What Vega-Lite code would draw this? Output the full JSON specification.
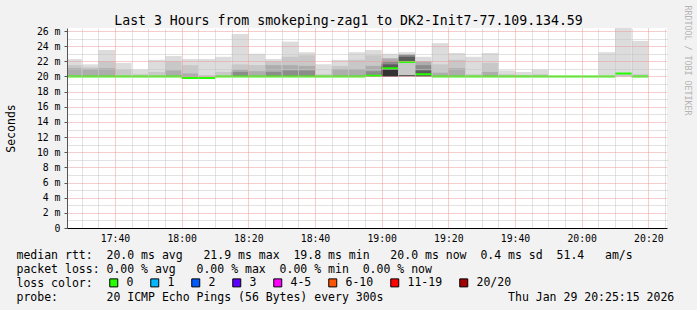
{
  "$schema": "https://vega.github.io/schema/vega-lite/v6.json",
  "width": 600,
  "height": 200,
  "autosize": {"type": "none"},
  "padding": {"left": 67, "top": 28, "right": 30, "bottom": 82},
  "background": "#f2f2f2",
  "view": {"fill": "white", "stroke": null},
  "datasets": {
    "smoke": [
      {"t":25.6,"t2":30,"lo":20.0,"hi":22.3,"s":"s1"},{"t":25.6,"t2":30,"lo":20.0,"hi":21.5,"s":"s2"},{"t":25.6,"t2":30,"lo":20.0,"hi":21.1,"s":"s3"},
      {"t":30,"t2":35,"lo":20.0,"hi":21.6,"s":"s1"},{"t":30,"t2":35,"lo":20.0,"hi":21.2,"s":"s2"},{"t":30,"t2":35,"lo":20.0,"hi":21.0,"s":"s3"},
      {"t":35,"t2":40,"lo":20.0,"hi":23.5,"s":"s1"},{"t":35,"t2":40,"lo":20.0,"hi":22.0,"s":"s2"},{"t":35,"t2":40,"lo":20.0,"hi":21.1,"s":"s3"},
      {"t":40,"t2":45,"lo":20.0,"hi":21.8,"s":"s1"},{"t":40,"t2":45,"lo":20.0,"hi":20.9,"s":"s2"},
      {"t":45,"t2":50,"lo":20.0,"hi":20.9,"s":"s1"},{"t":45,"t2":50,"lo":20.0,"hi":20.3,"s":"s2"},
      {"t":50,"t2":55,"lo":20.0,"hi":22.2,"s":"s1"},{"t":50,"t2":55,"lo":20.0,"hi":20.6,"s":"s2"},
      {"t":55,"t2":60,"lo":20.0,"hi":22.7,"s":"s1"},{"t":55,"t2":60,"lo":20.0,"hi":22.0,"s":"s2"},{"t":55,"t2":60,"lo":20.0,"hi":20.8,"s":"s3"},
      {"t":60,"t2":65,"lo":19.8,"hi":22.3,"s":"s1"},{"t":60,"t2":65,"lo":19.8,"hi":21.5,"s":"s2"},{"t":60,"t2":65,"lo":19.8,"hi":20.4,"s":"s3"},
      {"t":65,"t2":70,"lo":19.8,"hi":22.3,"s":"s1"},{"t":65,"t2":70,"lo":19.8,"hi":20.2,"s":"s2"},
      {"t":70,"t2":75,"lo":20.0,"hi":22.6,"s":"s1"},{"t":70,"t2":75,"lo":20.0,"hi":20.6,"s":"s2"},
      {"t":75,"t2":80,"lo":20.0,"hi":25.6,"s":"s1"},{"t":75,"t2":80,"lo":20.0,"hi":21.6,"s":"s2"},{"t":75,"t2":80,"lo":20.0,"hi":20.9,"s":"s3"},{"t":75,"t2":80,"lo":20.0,"hi":20.6,"s":"s4"},
      {"t":80,"t2":85,"lo":20.0,"hi":23.0,"s":"s1"},{"t":80,"t2":85,"lo":20.0,"hi":21.5,"s":"s2"},{"t":80,"t2":85,"lo":20.0,"hi":20.7,"s":"s3"},
      {"t":85,"t2":90,"lo":20.0,"hi":22.3,"s":"s1"},{"t":85,"t2":90,"lo":20.0,"hi":22.0,"s":"s2"},{"t":85,"t2":90,"lo":20.0,"hi":21.5,"s":"s3"},{"t":85,"t2":90,"lo":20.0,"hi":20.6,"s":"s4"},
      {"t":90,"t2":95,"lo":20.0,"hi":24.6,"s":"s1"},{"t":90,"t2":95,"lo":20.0,"hi":22.6,"s":"s2"},{"t":90,"t2":95,"lo":20.0,"hi":21.5,"s":"s3"},{"t":90,"t2":95,"lo":20.0,"hi":20.8,"s":"s4"},
      {"t":95,"t2":100,"lo":20.0,"hi":23.2,"s":"s1"},{"t":95,"t2":100,"lo":20.0,"hi":22.8,"s":"s2"},{"t":95,"t2":100,"lo":20.0,"hi":21.4,"s":"s3"},{"t":95,"t2":100,"lo":20.0,"hi":20.8,"s":"s4"},
      {"t":100,"t2":105,"lo":20.0,"hi":21.6,"s":"s1"},{"t":100,"t2":105,"lo":20.0,"hi":20.3,"s":"s2"},
      {"t":105,"t2":110,"lo":20.0,"hi":22.2,"s":"s1"},{"t":105,"t2":110,"lo":20.0,"hi":21.4,"s":"s2"},{"t":105,"t2":110,"lo":20.0,"hi":21.0,"s":"s3"},
      {"t":110,"t2":115,"lo":20.0,"hi":23.2,"s":"s1"},{"t":110,"t2":115,"lo":20.0,"hi":22.2,"s":"s2"},{"t":110,"t2":115,"lo":20.0,"hi":21.0,"s":"s3"},
      {"t":115,"t2":120,"lo":20.0,"hi":23.5,"s":"s1"},{"t":115,"t2":120,"lo":20.0,"hi":22.8,"s":"s2"},{"t":115,"t2":120,"lo":20.0,"hi":21.4,"s":"s3"},{"t":115,"t2":120,"lo":20.0,"hi":20.7,"s":"s4"},
      {"t":120,"t2":125,"lo":20.0,"hi":23.0,"s":"s1"},{"t":120,"t2":125,"lo":20.0,"hi":22.4,"s":"s3"},{"t":120,"t2":125,"lo":20.0,"hi":22.0,"s":"s4"},{"t":120,"t2":125,"lo":20.0,"hi":21.6,"s":"s5"},{"t":120,"t2":125,"lo":20.0,"hi":21.2,"s":"s6"},
      {"t":125,"t2":130,"lo":20.0,"hi":23.2,"s":"s1"},{"t":125,"t2":130,"lo":20.2,"hi":21.8,"s":"s2"},{"t":125,"t2":130,"lo":21.8,"hi":22.9,"s":"s4"},{"t":125,"t2":130,"lo":21.9,"hi":22.6,"s":"s5"},{"t":125,"t2":130,"lo":20.0,"hi":20.2,"s":"s5"},
      {"t":130,"t2":135,"lo":20.0,"hi":22.6,"s":"s1"},{"t":130,"t2":135,"lo":20.0,"hi":22.0,"s":"s3"},{"t":130,"t2":135,"lo":20.0,"hi":21.5,"s":"s4"},{"t":130,"t2":135,"lo":20.0,"hi":20.8,"s":"s5"},
      {"t":135,"t2":140,"lo":20.0,"hi":24.4,"s":"s1"},{"t":135,"t2":140,"lo":20.0,"hi":21.6,"s":"s2"},{"t":135,"t2":140,"lo":20.0,"hi":20.5,"s":"s3"},
      {"t":140,"t2":145,"lo":20.0,"hi":23.1,"s":"s1"},{"t":140,"t2":145,"lo":20.0,"hi":22.2,"s":"s2"},{"t":140,"t2":145,"lo":20.0,"hi":21.1,"s":"s3"},
      {"t":145,"t2":150,"lo":20.0,"hi":22.6,"s":"s1"},{"t":145,"t2":150,"lo":20.0,"hi":20.3,"s":"s2"},
      {"t":150,"t2":155,"lo":20.0,"hi":23.1,"s":"s1"},{"t":150,"t2":155,"lo":20.0,"hi":21.8,"s":"s2"},{"t":150,"t2":155,"lo":20.0,"hi":20.6,"s":"s3"},
      {"t":155,"t2":160,"lo":20.0,"hi":20.8,"s":"s1"},{"t":155,"t2":160,"lo":20.0,"hi":20.3,"s":"s2"},
      {"t":160,"t2":165,"lo":20.0,"hi":20.6,"s":"s1"},{"t":160,"t2":165,"lo":20.0,"hi":20.2,"s":"s2"},
      {"t":165,"t2":170,"lo":20.0,"hi":20.9,"s":"s1"},{"t":165,"t2":170,"lo":20.0,"hi":20.3,"s":"s2"},
      {"t":170,"t2":175,"lo":20.0,"hi":20.1,"s":"s1"},
      {"t":175,"t2":180,"lo":20.0,"hi":20.1,"s":"s1"},
      {"t":180,"t2":185,"lo":20.0,"hi":20.1,"s":"s1"},
      {"t":185,"t2":190,"lo":20.0,"hi":23.2,"s":"s1"},
      {"t":190,"t2":195,"lo":20.0,"hi":26.4,"s":"s1"},{"t":190,"t2":195,"lo":20.0,"hi":20.4,"s":"s2"},
      {"t":195,"t2":200,"lo":20.0,"hi":24.7,"s":"s1"},{"t":195,"t2":200,"lo":20.0,"hi":20.3,"s":"s2"}
    ],
    "median": [
      {"t":25.6,"t2":30,"med":20.0,"loss":"0"},{"t":30,"t2":35,"med":20.0,"loss":"0"},{"t":35,"t2":40,"med":20.0,"loss":"0"},
      {"t":40,"t2":45,"med":20.0,"loss":"0"},{"t":45,"t2":50,"med":20.0,"loss":"0"},{"t":50,"t2":55,"med":20.0,"loss":"0"},
      {"t":55,"t2":60,"med":20.0,"loss":"0"},{"t":60,"t2":65,"med":19.8,"loss":"0"},{"t":65,"t2":70,"med":19.8,"loss":"0"},
      {"t":70,"t2":75,"med":20.0,"loss":"0"},{"t":75,"t2":80,"med":20.0,"loss":"0"},{"t":80,"t2":85,"med":20.0,"loss":"0"},
      {"t":85,"t2":90,"med":20.0,"loss":"0"},{"t":90,"t2":95,"med":20.0,"loss":"0"},{"t":95,"t2":100,"med":20.0,"loss":"0"},
      {"t":100,"t2":105,"med":20.0,"loss":"0"},{"t":105,"t2":110,"med":20.0,"loss":"0"},{"t":110,"t2":115,"med":20.0,"loss":"0"},
      {"t":115,"t2":120,"med":20.1,"loss":"0"},{"t":120,"t2":125,"med":21.1,"loss":"0"},{"t":125,"t2":130,"med":21.9,"loss":"0"},
      {"t":130,"t2":135,"med":20.3,"loss":"0"},{"t":135,"t2":140,"med":20.0,"loss":"0"},{"t":140,"t2":145,"med":20.0,"loss":"0"},
      {"t":145,"t2":150,"med":20.0,"loss":"0"},{"t":150,"t2":155,"med":20.0,"loss":"0"},{"t":155,"t2":160,"med":20.0,"loss":"0"},
      {"t":160,"t2":165,"med":20.0,"loss":"0"},{"t":165,"t2":170,"med":20.0,"loss":"0"},{"t":170,"t2":175,"med":20.0,"loss":"0"},
      {"t":175,"t2":180,"med":20.0,"loss":"0"},{"t":180,"t2":185,"med":20.0,"loss":"0"},{"t":185,"t2":190,"med":20.0,"loss":"0"},
      {"t":190,"t2":195,"med":20.4,"loss":"0"},{"t":195,"t2":200,"med":20.0,"loss":"0"}
    ]
  },
  "layer": [
    {
      "data": {"name": "smoke"},
      "mark": {"type": "bar", "strokeWidth": 0},
      "encoding": {
        "x": {
          "field": "t", "type": "quantitative",
          "scale": {"domain": [25.6, 205.6], "nice": false, "zero": false},
          "axis": {
            "orient": "bottom",
            "values": [40, 60, 80, 100, 120, 140, 160, 180, 200],
            "title": [
              "median rtt:\u00a0\u00a020.0 ms avg\u00a0\u00a0\u00a021.9 ms max\u00a0\u00a019.8 ms min\u00a0\u00a0\u00a020.0 ms now\u00a0\u00a00.4 ms sd\u00a0\u00a051.4\u00a0\u00a0\u00a0am/s",
              "packet loss: 0.00 % avg\u00a0\u00a0\u00a00.00 % max\u00a0\u00a00.00 % min\u00a0\u00a00.00 % now",
              "loss color:",
              "probe:\u00a0\u00a0\u00a0\u00a0\u00a0\u00a0\u00a020 ICMP Echo Pings (56 Bytes) every 300s\u00a0\u00a0\u00a0\u00a0\u00a0\u00a0\u00a0\u00a0\u00a0\u00a0\u00a0\u00a0\u00a0\u00a0\u00a0\u00a0\u00a0\u00a0Thu Jan 29 20:25:15 2026"
            ],
            "titleFont": "DejaVu Sans Mono", "titleFontSize": 11.5, "titleFontWeight": "normal", "titleColor": "black",
            "titleAlign": "left", "titleAnchor": "start", "titleBaseline": "alphabetic",
            "titleX": -51, "titleY": 30, "titleLineHeight": 14,
            "labelExpr": "(17 + floor(datum.value / 60)) + ':' + (datum.value % 60 < 10 ? '0' : '') + (datum.value % 60)",
            "labelFont": "DejaVu Sans Mono", "labelFontSize": 9.8, "labelColor": "black",
            "labelPadding": 2, "labelOverlap": false, "labelFlush": false,
            "grid": true, "gridColor": "#eb9a9a", "gridDash": [1, 1], "gridWidth": 1,
            "ticks": true, "tickSize": 3, "tickColor": "transparent",
            "domain": true, "domainColor": "black", "domainWidth": 1,
            "zindex": 1
          }
        },
        "x2": {"field": "t2"},
        "y": {
          "field": "lo", "type": "quantitative",
          "scale": {"domain": [0, 26.4], "nice": false, "zero": true},
          "axis": {
            "orient": "left",
            "values": [0, 2, 4, 6, 8, 10, 12, 14, 16, 18, 20, 22, 24, 26],
            "title": "Seconds",
            "titleFont": "DejaVu Sans Mono", "titleFontSize": 11.5, "titleFontWeight": "normal", "titleColor": "black",
            "titleAngle": -90, "titleX": -56, "titleY": 100, "titleAlign": "center", "titleBaseline": "middle",
            "labelExpr": "datum.value == 0 ? '0' : datum.value + ' m'",
            "labelFont": "DejaVu Sans Mono", "labelFontSize": 9.8, "labelColor": "black",
            "labelPadding": 4, "labelOverlap": false, "labelFlush": false,
            "grid": true, "gridColor": "#eb9a9a", "gridDash": [1, 1], "gridWidth": 1,
            "ticks": true, "tickSize": 3, "tickColor": "#555555",
            "domain": true, "domainColor": "#555555", "domainWidth": 1,
            "zindex": 1
          }
        },
        "y2": {"field": "hi"},
        "fill": {
          "field": "s", "type": "nominal",
          "scale": {"domain": ["s1","s2","s3","s4","s5","s6"], "range": ["#dcdcdc","#c8c8c8","#adadad","#8c8c8c","#5c5c5c","#333333"]},
          "legend": null
        }
      }
    },
    {
      "data": {"name": "median"},
      "mark": {"type": "bar", "stroke": "#26ff00", "strokeWidth": 2},
      "encoding": {
        "x": {
          "field": "t", "type": "quantitative",
          "axis": {
            "orient": "top",
            "values": [30,35,45,50,55,65,70,75,85,90,95,105,110,115,125,130,135,145,150,155,165,170,175,185,190,195,205],
            "title": "Last 3 Hours from smokeping-zag1 to DK2-Init7-77.109.134.59",
            "titleFont": "DejaVu Sans Mono", "titleFontSize": 13.2, "titleFontWeight": "normal", "titleColor": "black",
            "titleX": 281, "titleY": -4, "titleAlign": "center", "titleBaseline": "alphabetic",
            "labels": false, "ticks": false, "domain": false,
            "grid": true, "gridColor": "#c4c4c4", "gridDash": [1, 1], "gridWidth": 1,
            "zindex": 1
          }
        },
        "x2": {"field": "t2"},
        "y": {
          "field": "med", "type": "quantitative",
          "axis": {
            "orient": "right",
            "values": [1,3,5,7,9,11,13,15,17,19,21,23,25],
            "title": "RRDTOOL / TOBI OETIKER",
            "titleFont": "DejaVu Sans Mono", "titleFontSize": 8.3, "titleFontWeight": "normal", "titleColor": "#b4b4b4",
            "titleAngle": 90, "titleAlign": "left", "titleBaseline": "middle", "titleX": 19, "titleY": -23,
            "labels": false, "ticks": false, "domain": false,
            "grid": true, "gridColor": "#c4c4c4", "gridDash": [1, 1], "gridWidth": 1,
            "zindex": 1
          }
        },
        "y2": {"field": "med"},
        "color": {
          "field": "loss", "type": "nominal",
          "scale": {"domain": ["0","1","2","3","4-5","6-10","11-19","20/20"], "range": ["#26ff00","#00b8ff","#0059ff","#5e00ff","#ff00ff","#ff5500","#ff0000","#a00000"]},
          "legend": {
            "orient": "none", "legendX": 41, "legendY": 249, "direction": "horizontal", "title": null,
            "labelFont": "DejaVu Sans Mono", "labelFontSize": 11.5, "labelColor": "black", "labelOffset": 7,
            "columnPadding": 14, "symbolType": "square", "symbolSize": 64,
            "symbolStrokeColor": "black", "symbolStrokeWidth": 1, "symbolOpacity": 1, "padding": 0
          }
        }
      }
    }
  ],
  "resolve": {"axis": {"x": "independent", "y": "independent"}}
}
